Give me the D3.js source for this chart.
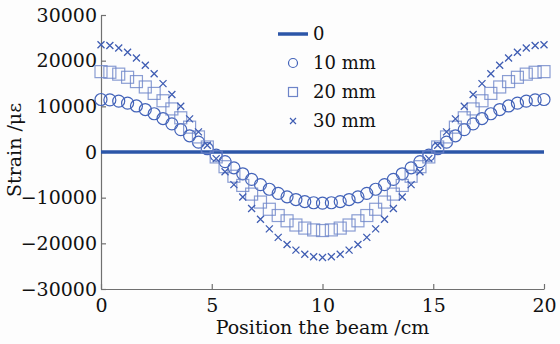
<!DOCTYPE html>
<html>
<head>
<meta charset="utf-8">
<script src="https://cdn.jsdelivr.net/npm/d3@7"></script>
<style>
  body { margin: 0; background: #fdfdfd; }
  svg { display: block; }
  text { font-family: "DejaVu Serif", serif; fill: #111; }
</style>
</head>
<body>
<svg id="svg" width="560" height="344"></svg>
<script>
// positions along the beam, cm (0.4 cm step)
var positions = [0, 0.4, 0.8, 1.2, 1.6, 2, 2.4, 2.8, 3.2, 3.6, 4, 4.4, 4.8, 5.2, 5.6, 6, 6.4, 6.8, 7.2, 7.6,
  8, 8.4, 8.8, 9.2, 9.6, 10, 10.4, 10.8, 11.2, 11.6, 12, 12.4, 12.8, 13.2, 13.6, 14, 14.4, 14.8, 15.2, 15.6,
  16, 16.4, 16.8, 17.2, 17.6, 18, 18.4, 18.8, 19.2, 19.6, 20];

var strain10 = [11500, 11410, 11140, 10690, 10080, 9300, 8380, 7330, 6160, 4900, 3550, 2160, 720, -700, -2100, -3460,
  -4770, -6000, -7140, -8160, -9060, -9810, -10410, -10850, -11110, -11200, -11110, -10850, -10410, -9810, -9060,
  -8160, -7140, -6000, -4770, -3460, -2100, -700, 720, 2160, 3550, 4900, 6160, 7330, 8380, 9300, 10080, 10690,
  11140, 11410, 11500];

var strain20 = [17600, 17460, 17050, 16360, 15420, 14240, 12830, 11220, 9430, 7490, 5440, 3300, 1100, -1080, -3220,
  -5310, -7320, -9220, -10960, -12540, -13910, -15070, -15990, -16660, -17060, -17200, -17060, -16660, -15990,
  -15070, -13910, -12540, -10960, -9220, -7320, -5310, -3220, -1080, 1100, 3300, 5440, 7490, 9430, 11220, 12830,
  14240, 15420, 16360, 17050, 17460, 17600];

var strain30 = [23500, 23310, 22760, 21850, 20590, 19010, 17130, 14980, 12590, 10010, 7260, 4400, 1480, -1450, -4330,
  -7140, -9840, -12380, -14720, -16840, -18690, -20240, -21480, -22380, -22920, -23100, -22920, -22380, -21480,
  -20240, -18690, -16840, -14720, -12380, -9840, -7140, -4330, -1450, 1480, 4400, 7260, 10010, 12590, 14980, 17130,
  19010, 20590, 21850, 22760, 23310, 23500];

var strain0 = [0, 0];
var zeroPositions = [0, 20];

var xTicks = [0, 5, 10, 15, 20];
var yTicks = [-30000, -20000, -10000, 0, 10000, 20000, 30000];
var legendLabels = ["0", "10 mm", "20 mm", "30 mm"];

var svg = d3.select("svg"),
    width = +svg.attr("width"),
    height = +svg.attr("height");

var margin = { top: 15, right: 16, bottom: 55, left: 101 };
var fontSize = "19px";

var x = d3.scaleLinear().domain([0, 20]).range([margin.left, width - margin.right]);
var y = d3.scaleLinear().domain([-30000, 30000]).range([height - margin.bottom, margin.top]);

var axisColor = "#707070";

// axes, ticks pointing inward
var gx = svg.append("g")
    .attr("transform", "translate(0," + (height - margin.bottom) + ")")
    .call(d3.axisBottom(x).tickValues(xTicks).tickSizeInner(-5).tickSizeOuter(0).tickPadding(10).tickFormat(d3.format("d")));

var gy = svg.append("g")
    .attr("transform", "translate(" + margin.left + ",0)")
    .call(d3.axisLeft(y).tickValues(yTicks).tickSizeInner(-5).tickSizeOuter(0).tickPadding(4).tickFormat(d3.format("d")));

[gx, gy].forEach(function (g) {
    g.attr("font-size", null).attr("font-family", null);
    g.select(".domain").attr("stroke", axisColor).attr("stroke-width", 1.2);
    g.selectAll(".tick line").attr("stroke", axisColor).attr("stroke-width", 1.2);
    g.selectAll(".tick text")
        .style("font-family", "DejaVu Serif, serif")
        .style("font-size", fontSize)
        .attr("fill", "#111");
});

// zero-strain line
svg.append("path")
    .datum(zeroPositions)
    .attr("fill", "none")
    .attr("stroke", "#2c56a8")
    .attr("stroke-width", 3.5)
    .attr("d", d3.line()
        .x(function (d) { return x(d); })
        .y(function (d, i) { return y(strain0[i]); }));

// 10 mm circles
svg.append("g").selectAll("circle")
    .data(strain10)
    .enter()
    .append("circle")
    .attr("cx", function (d, i) { return x(positions[i]); })
    .attr("cy", function (d) { return y(d); })
    .attr("r", 6)
    .attr("fill", "none")
    .attr("stroke", "#4363b9")
    .attr("stroke-width", 1.2);

// 20 mm squares
var sq = 12;
svg.append("g").selectAll("rect")
    .data(strain20)
    .enter()
    .append("rect")
    .attr("x", function (d, i) { return x(positions[i]) - sq / 2; })
    .attr("y", function (d) { return y(d) - sq / 2; })
    .attr("width", sq)
    .attr("height", sq)
    .attr("fill", "none")
    .attr("stroke", "#6d84c8")
    .attr("stroke-opacity", 0.8)
    .attr("stroke-width", 1.2);

// 30 mm crosses
var cs = 3.5;
svg.append("g").selectAll("path")
    .data(strain30)
    .enter()
    .append("path")
    .attr("transform", function (d, i) { return "translate(" + x(positions[i]) + "," + y(d) + ")"; })
    .attr("d", "M" + (-cs) + "," + (-cs) + "L" + cs + "," + cs + "M" + (-cs) + "," + cs + "L" + cs + "," + (-cs))
    .attr("stroke", "#3f5db3")
    .attr("stroke-width", 1.3)
    .attr("fill", "none");

// legend
var legend = svg.append("g").attr("transform", "translate(278,34)");
legend.append("line")
    .attr("x1", 0).attr("x2", 30).attr("y1", 0).attr("y2", 0)
    .attr("stroke", "#2c56a8").attr("stroke-width", 3.5);
legend.append("circle")
    .attr("cx", 15).attr("cy", 29).attr("r", 4.5)
    .attr("fill", "none").attr("stroke", "#4363b9").attr("stroke-width", 1.2);
legend.append("rect")
    .attr("x", 10.5).attr("y", 53.5).attr("width", 9).attr("height", 9)
    .attr("fill", "none").attr("stroke", "#6d84c8").attr("stroke-width", 1.2);
legend.append("path")
    .attr("transform", "translate(15,87)")
    .attr("d", "M-3,-3L3,3M-3,3L3,-3")
    .attr("stroke", "#3f5db3").attr("stroke-width", 1.2);

legend.selectAll("text.lab")
    .data(legendLabels)
    .enter()
    .append("text")
    .attr("class", "lab")
    .attr("x", 35)
    .attr("y", function (d, i) { return i * 29; })
    .attr("dy", "0.35em")
    .style("font-size", "18px")
    .text(function (d) { return d; });

// axis titles
svg.append("text")
    .attr("x", (margin.left + width - margin.right) / 2)
    .attr("y", 334)
    .attr("text-anchor", "middle")
    .style("font-size", fontSize)
    .text("Position the beam /cm");

svg.append("text")
    .attr("transform", "translate(21,150) rotate(-90)")
    .attr("text-anchor", "middle")
    .style("font-size", fontSize)
    .text("Strain /με");
</script>
</body>
</html>
